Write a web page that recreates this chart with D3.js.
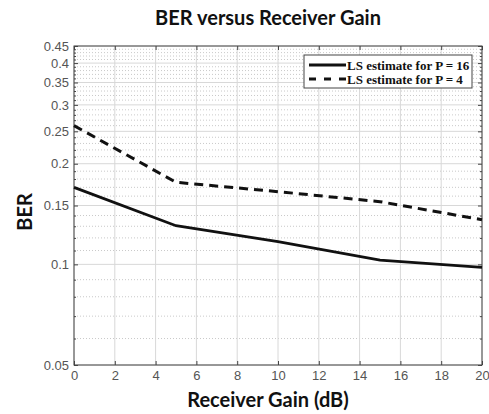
<!DOCTYPE html>
<html>
<head>
<meta charset="utf-8">
<script src="https://cdn.jsdelivr.net/npm/d3@7"></script>
<style>
  body { margin: 0; background: #fff; }
  svg { display: block; }
</style>
</head>
<body>
<div id="viz"></div>
<script>
// data
const gains = [0, 5, 10, 15, 20];
const berP16 = [0.170, 0.1305, 0.117, 0.103, 0.098];
const berP4 = [0.260, 0.176, 0.165, 0.154, 0.136];
const seriesNames = ["LS estimate for P = 16", "LS estimate for P = 4"];
const xTicks = [0, 2, 4, 6, 8, 10, 12, 14, 16, 18, 20];
const yTicks = [0.05, 0.1, 0.15, 0.2, 0.25, 0.3, 0.35, 0.4, 0.45];
const yMinor = d3.range(6, 45).map(d => d / 100).filter(v => !yTicks.some(t => Math.abs(t - v) < 1e-9));

const W = 489, H = 414;
const plotL = 74, plotR = 482, plotT = 46, plotB = 365;

const svg = d3.select("#viz").append("svg")
    .attr("width", W)
    .attr("height", H);

const x = d3.scaleLinear().domain([0, 20]).range([plotL, plotR]);
const y = d3.scaleLog().domain([0.05, 0.45]).range([plotB, plotT]);

// minor dotted grid
svg.append("g").selectAll("line").data(yMinor).join("line")
    .attr("x1", plotL).attr("x2", plotR)
    .attr("y1", d => y(d)).attr("y2", d => y(d))
    .attr("stroke", "#bbb").attr("stroke-width", 0.8)
    .attr("stroke-dasharray", "1,2");

// major grid
svg.append("g").selectAll("line").data(yTicks).join("line")
    .attr("x1", plotL).attr("x2", plotR)
    .attr("y1", d => y(d)).attr("y2", d => y(d))
    .attr("stroke", "#d8d8d8").attr("stroke-width", 1);
svg.append("g").selectAll("line").data(xTicks).join("line")
    .attr("x1", d => x(d)).attr("x2", d => x(d))
    .attr("y1", plotT).attr("y2", plotB)
    .attr("stroke", "#d8d8d8").attr("stroke-width", 1);

// axes
const tickFont = g => g.selectAll("text")
    .attr("font-family", "Liberation Sans, Arial, sans-serif")
    .attr("font-size", 13).attr("fill", "#555");

svg.append("g").attr("transform", `translate(0,${plotB})`)
    .call(d3.axisBottom(x).tickValues(xTicks).tickSize(-4).tickPadding(6).tickFormat(d3.format("d")))
    .call(g => g.select(".domain").remove())
    .call(g => g.selectAll("line").attr("stroke", "#444"))
    .call(tickFont);
svg.append("g").attr("transform", `translate(0,${plotT})`)
    .call(d3.axisTop(x).tickValues(xTicks).tickSize(-4).tickFormat(""))
    .call(g => g.select(".domain").remove())
    .call(g => g.selectAll("line").attr("stroke", "#444"));

svg.append("g").attr("transform", `translate(${plotL},0)`)
    .call(d3.axisLeft(y).tickValues(yTicks).tickSize(-4).tickPadding(5).tickFormat(d => String(+d.toFixed(2))))
    .call(g => g.select(".domain").remove())
    .call(g => g.selectAll("line").attr("stroke", "#444"))
    .call(tickFont);
svg.append("g").attr("transform", `translate(${plotL},0)`)
    .call(d3.axisLeft(y).tickValues(yMinor).tickSize(-2).tickFormat(""))
    .call(g => g.select(".domain").remove())
    .call(g => g.selectAll("line").attr("stroke", "#444"));
svg.append("g").attr("transform", `translate(${plotR},0)`)
    .call(d3.axisRight(y).tickValues(yTicks).tickSize(-4).tickFormat(""))
    .call(g => g.select(".domain").remove())
    .call(g => g.selectAll("line").attr("stroke", "#444"));
svg.append("g").attr("transform", `translate(${plotR},0)`)
    .call(d3.axisRight(y).tickValues(yMinor).tickSize(-2).tickFormat(""))
    .call(g => g.select(".domain").remove())
    .call(g => g.selectAll("line").attr("stroke", "#444"));

// box
svg.append("rect")
    .attr("x", plotL).attr("y", plotT)
    .attr("width", plotR - plotL).attr("height", plotB - plotT)
    .attr("fill", "none").attr("stroke", "#444").attr("stroke-width", 1);

// lines
const line = d3.line().x((d, i) => x(gains[i])).y(d => y(d));
svg.append("path").datum(berP16)
    .attr("d", line).attr("fill", "none")
    .attr("stroke", "#111").attr("stroke-width", 2.8);
svg.append("path").datum(berP4)
    .attr("d", line).attr("fill", "none")
    .attr("stroke", "#111").attr("stroke-width", 3)
    .attr("stroke-dasharray", "9,6");

// legend
const lg = svg.append("g").attr("transform", "translate(304,55)");
lg.append("rect").attr("width", 168).attr("height", 33)
    .attr("fill", "#fff").attr("stroke", "#444").attr("stroke-width", 1);
seriesNames.forEach((name, i) => {
    const yy = 10 + i * 14;
    lg.append("line").attr("x1", 5).attr("x2", 42).attr("y1", yy).attr("y2", yy)
        .attr("stroke", "#111").attr("stroke-width", i ? 3 : 2.8)
        .attr("stroke-dasharray", i ? "7,8" : null);
    lg.append("text").attr("x", 43).attr("y", yy + 4.5)
        .attr("font-family", "Liberation Serif, Times New Roman, serif")
        .attr("font-weight", "bold").attr("font-size", 13)
        .attr("fill", "#111").text(name);
});

// titles
const labelFont = sel => sel
    .attr("text-anchor", "middle")
    .attr("font-family", "Lato, sans-serif").attr("font-weight", "bold")
    .attr("font-size", 20).attr("fill", "#111");

svg.append("text").attr("x", 268).attr("y", 25)
    .call(labelFont)
    .text("BER versus Receiver Gain");
svg.append("text").attr("x", 268).attr("y", 407)
    .call(labelFont)
    .text("Receiver Gain (dB)");
svg.append("text")
    .attr("transform", "translate(32,212) rotate(-90)")
    .call(labelFont)
    .text("BER");
</script>
</body>
</html>
